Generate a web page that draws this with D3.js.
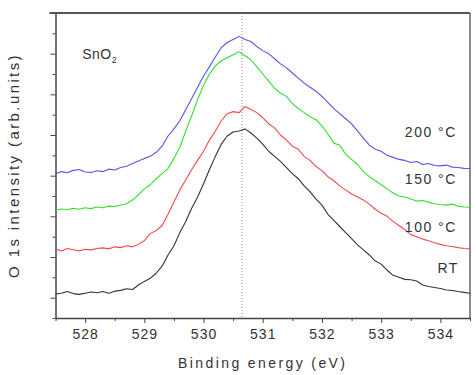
<!DOCTYPE html>
<head>
  <meta charset="utf-8">
  <script src="https://d3js.org/d3.v7.min.js"></script>
  <style>
    body { margin: 0; background: #fff; }
    text { font-family: 'Liberation Sans', Arial, sans-serif; fill: #333; }
    .axis path, .axis line { stroke: #444; }
    .axis text { font-size: 14px; letter-spacing: 1px; }
    .curve { fill: none; stroke-width: 1.1; stroke-linejoin: round; }
  </style>
</head>
<body>
  <script>
    // binding energy grid, 0.1 eV steps from 527.5 to 534.5
    var energyStart = 527.5, energyStep = 0.1;

    var rt = [1.18,1.22,1.30,1.20,1.16,1.22,1.28,1.24,1.30,1.22,
              1.32,1.36,1.44,1.40,1.62,1.80,1.95,2.20,2.55,3.10,
              3.55,4.20,4.75,5.40,5.95,6.60,7.30,7.95,8.55,8.95,
              9.15,9.20,9.30,9.10,8.85,8.55,8.20,7.95,7.70,7.40,
              7.10,6.85,6.50,6.20,5.85,5.55,5.10,4.80,4.50,4.20,
              3.90,3.60,3.35,3.10,2.80,2.65,2.35,2.10,2.00,1.90,
              1.88,1.82,1.62,1.55,1.50,1.45,1.38,1.35,1.30,1.26,1.22];

    var t100 = [3.40,3.30,3.42,3.36,3.30,3.38,3.35,3.42,3.45,3.40,
                3.50,3.46,3.55,3.50,3.62,3.80,4.15,4.30,4.55,5.10,
                5.70,6.30,6.80,7.30,7.75,8.20,8.75,9.20,9.70,10.05,
                10.15,10.10,10.40,10.25,10.10,9.85,9.55,9.35,9.00,8.75,
                8.45,8.30,7.95,7.75,7.45,7.25,6.95,6.75,6.50,6.30,
                6.10,5.95,5.80,5.60,5.35,5.15,5.00,4.75,4.55,4.35,
                4.10,4.00,3.88,3.80,3.70,3.62,3.55,3.52,3.46,3.42,3.40];

    var t150 = [5.30,5.36,5.32,5.40,5.35,5.42,5.38,5.46,5.42,5.50,
                5.48,5.56,5.62,5.80,6.05,6.35,6.55,6.85,7.10,7.35,
                7.85,8.40,9.20,9.95,10.75,11.45,12.00,12.40,12.65,12.80,
                12.95,13.10,12.90,12.70,12.35,12.00,11.65,11.30,11.05,10.90,
                10.55,10.30,10.10,9.90,9.75,9.45,9.05,8.60,8.50,8.05,
                7.80,7.55,7.20,6.95,6.75,6.55,6.35,6.15,6.00,5.95,
                5.85,5.75,5.78,5.70,5.62,5.58,5.55,5.60,5.50,5.46,5.45];

    var t200 = [7.10,7.20,7.14,7.26,7.30,7.18,7.16,7.24,7.20,7.32,
                7.28,7.40,7.46,7.60,7.72,7.85,7.95,8.15,8.45,8.95,
                9.30,9.70,10.25,10.80,11.35,11.90,12.35,12.85,13.30,13.55,
                13.70,13.85,13.70,13.60,13.35,13.15,13.00,12.75,12.50,12.30,
                12.05,11.80,11.55,11.35,11.15,10.90,10.60,10.30,10.05,9.80,
                9.55,9.20,8.85,8.50,8.30,8.20,8.00,7.90,7.80,7.75,
                7.65,7.70,7.55,7.60,7.50,7.48,7.52,7.42,7.40,7.36,7.35];

    var seriesNames = ["RT", "100 °C", "150 °C", "200 °C"];
    var seriesColors = ["#333333", "#f04a4a", "#2ee02e", "#5555e6"];
    var xTicks = [528, 529, 530, 531, 532, 533, 534];
    var peakEnergy = 530.65;

    var margin = { top: 13, right: 6, bottom: 57, left: 55.5 };
    var width = 476 - margin.left - margin.right;
    var height = 375 - margin.top - margin.bottom;

    var svg = d3.select("body").append("svg")
        .attr("width", 476)
        .attr("height", 375)
      .append("g")
        .attr("transform", "translate(" + margin.left + "," + margin.top + ")");

    var x = d3.scaleLinear().domain([527.5, 534.5]).range([0, width]);
    var y = d3.scaleLinear().domain([0, 15]).range([height, 0]);

    var series = [rt, t100, t150, t200].map(function(vals, i) {
      return {
        name: seriesNames[i],
        color: seriesColors[i],
        values: vals.map(function(v, j) { return { e: energyStart + j * energyStep, v: v }; })
      };
    });

    // minor ticks first, then majors on top
    var xMinor = d3.range(527.5, 534.51, 0.5).filter(function(d) { return xTicks.indexOf(d) < 0; });
    svg.append("g")
        .attr("class", "axis")
        .attr("transform", "translate(0," + height + ")")
        .call(d3.axisBottom(x).tickValues(xMinor).tickSize(3).tickFormat(""))
        .call(function(g) { g.select(".domain").remove(); });

    svg.append("g")
        .attr("class", "axis")
        .attr("transform", "translate(0," + height + ")")
        .call(d3.axisBottom(x).tickValues(xTicks).tickSize(5).tickSizeOuter(0).tickPadding(6).tickFormat(d3.format("d")))
        .call(function(g) { g.select(".domain").attr("stroke-width", 1.5); });

    var yMinor = d3.range(0, 16, 2);
    var yMajor = d3.range(1, 16, 2);
    svg.append("g")
        .attr("class", "axis")
        .call(d3.axisLeft(y).tickValues(yMinor).tickSize(3).tickFormat(""))
        .call(function(g) { g.select(".domain").remove(); });

    svg.append("g")
        .attr("class", "axis")
        .call(d3.axisLeft(y).tickValues(yMajor).tickSize(5).tickSizeOuter(0).tickFormat(""))
        .call(function(g) { g.select(".domain").attr("stroke-width", 1.5); });

    // top and right frame
    svg.append("line")
        .attr("x1", -6).attr("x2", width)
        .attr("y1", 0).attr("y2", 0)
        .attr("stroke", "#555").attr("stroke-width", 2);
    svg.append("line")
        .attr("x1", width).attr("x2", width)
        .attr("y1", 0).attr("y2", height)
        .attr("stroke", "#666").attr("stroke-width", 1.5);

    // dotted peak marker
    svg.append("line")
        .attr("x1", x(peakEnergy)).attr("x2", x(peakEnergy))
        .attr("y1", 0).attr("y2", height)
        .attr("stroke", "#888")
        .attr("stroke-width", 1)
        .attr("stroke-dasharray", "1,2");

    var line = d3.line()
        .x(function(d) { return x(d.e); })
        .y(function(d) { return y(d.v); });

    svg.selectAll(".curve")
        .data(series)
      .enter().append("path")
        .attr("class", "curve")
        .attr("stroke", function(d) { return d.color; })
        .attr("d", function(d) { return line(d.values); });

    // series labels on the right
    var labelPos = [
      { e: 533.95, v: 2.2 },
      { e: 533.4, v: 4.25 },
      { e: 533.4, v: 6.6 },
      { e: 533.4, v: 8.9 }
    ];
    svg.selectAll(".slabel")
        .data(series)
      .enter().append("text")
        .attr("class", "slabel")
        .attr("x", function(d, i) { return x(labelPos[i].e); })
        .attr("y", function(d, i) { return y(labelPos[i].v); })
        .style("font-size", "14px")
        .style("letter-spacing", "1.5px")
        .text(function(d) { return d.name; });

    // sample name
    var sample = svg.append("text")
        .attr("x", x(527.95))
        .attr("y", y(12.75))
        .style("font-size", "14px")
        .style("letter-spacing", "0.5px");
    sample.append("tspan").text("SnO");
    sample.append("tspan").attr("dy", 4).style("font-size", "9px").text("2");

    // axis titles
    svg.append("text")
        .attr("x", width / 2)
        .attr("y", height + 50)
        .attr("text-anchor", "middle")
        .style("font-size", "14px")
        .style("letter-spacing", "2.4px")
        .text("Binding energy (eV)");

    svg.append("text")
        .attr("transform", "translate(-37," + (height / 2) + ") rotate(-90)")
        .attr("text-anchor", "middle")
        .style("font-size", "15px")
        .style("letter-spacing", "2.4px")
        .text("O 1s intensity (arb.units)");
  </script>
</body>
